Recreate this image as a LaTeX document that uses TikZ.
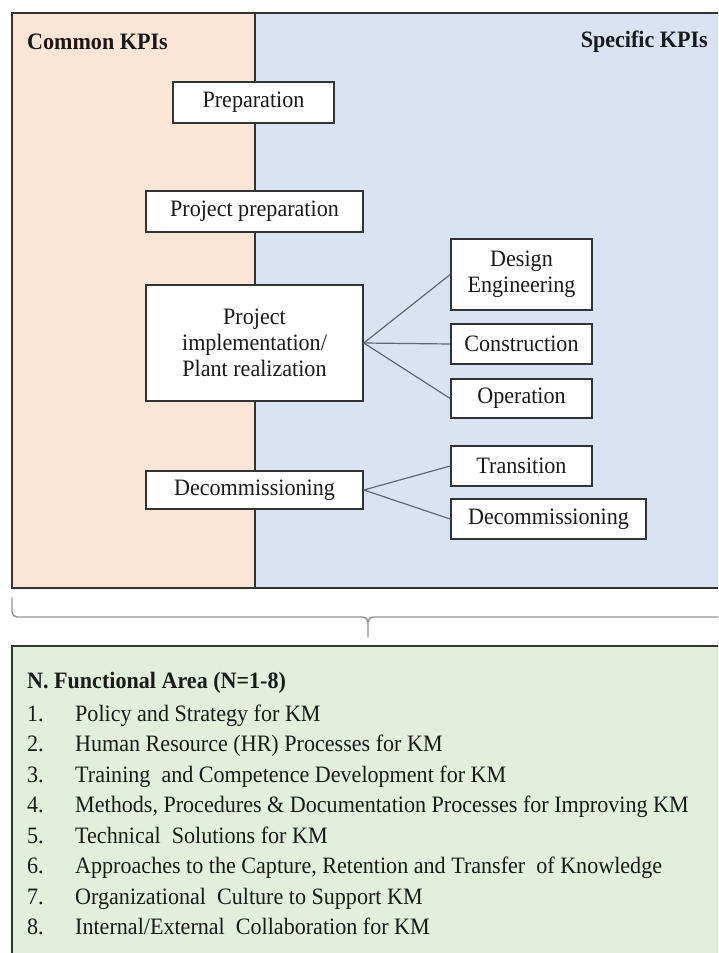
\documentclass[tikz,border=0pt]{standalone}
\usepackage{fontspec}
\setmainfont{Liberation Serif}[FakeStretch=0.94]
\begin{document}
\definecolor{peach}{HTML}{FBE5D6}
\definecolor{paleblue}{HTML}{DAE3F3}
\definecolor{palegreen}{HTML}{E2EFDA}
\definecolor{frame}{HTML}{333333}
\definecolor{link}{HTML}{5F6777}
\definecolor{ink}{HTML}{1A1A1A}
\begin{tikzpicture}[x=1pt,y=-1pt,
  every node/.style={text=ink, font=\fontsize{23.5}{26}\selectfont},
  kbox/.style={draw=frame, line width=1.6pt, fill=white, align=center, inner sep=0pt},
  link/.style={draw=link, line width=1.2pt},
  heading/.style={font=\fontsize{23.5}{26}\selectfont\bfseries, inner sep=0pt},
  item/.style={anchor=base west, inner sep=0pt}
]
\useasboundingbox (0,0) rectangle (718,953);
\clip (0,0) rectangle (718,953);

% panels of common and specific KPIs
\fill[peach] (12,13) rectangle (255,588);
\fill[paleblue] (255,13) rectangle (740,588);
\draw[frame, line width=1.8pt] (740,13) -- (12,13) -- (12,588) -- (740,588);
\draw[frame, line width=1.4pt] (255,13) -- (255,588);

\node[heading, anchor=west] (common) at (27,42) {Common KPIs};
\node[heading, anchor=east] (specific) at (708,42) {Specific KPIs};

% phase boxes
\node[kbox, minimum width=161pt, minimum height=41pt] (prep) at (253.5,102.5) {Preparation};
\node[kbox, minimum width=217pt, minimum height=41pt] (pprep) at (254.5,211.5) {Project preparation};
\node[kbox, minimum width=217pt, minimum height=116pt] (impl) at (254.5,343) {Project\\implementation/\\Plant realization};
\node[kbox, minimum width=217pt, minimum height=38pt] (decom) at (254.5,490) {Decommissioning};

\node[kbox, minimum width=141pt, minimum height=71pt] (design) at (521.5,274.5) {Design\\Engineering};
\node[kbox, minimum width=141pt, minimum height=40pt] (constr) at (521.5,344) {Construction};
\node[kbox, minimum width=141pt, minimum height=39pt] (oper) at (521.5,398.5) {Operation};
\node[kbox, minimum width=141pt, minimum height=40pt] (trans) at (521.5,466) {Transition};
\node[kbox, minimum width=195pt, minimum height=40pt] (decomB) at (548.5,519) {Decommissioning};

\draw[link] (impl.east) -- (design.west);
\draw[link] (impl.east) -- (constr.west);
\draw[link] (impl.east) -- (oper.west);
\draw[link] (decom.east) -- (trans.west);
\draw[link] (decom.east) -- (decomB.west);

% brace gathering the panels
\draw[draw=gray!85, line width=1.4pt, line cap=round]
  (12,598) -- (12,612) arc[start angle=180, end angle=90, radius=5] -- (363,617)
  arc[start angle=270, end angle=360, radius=5] -- (368,637);
\draw[draw=gray!85, line width=1.4pt, line cap=round]
  (368,622) arc[start angle=180, end angle=270, radius=5] -- (740,617);

% functional areas
\fill[palegreen] (12,646) rectangle (740,960);
\draw[frame, line width=1.8pt] (740,646) -- (12,646) -- (12,960);

\node[heading, anchor=base west] (areas) at (27,688) {N. Functional Area (N=1-8)};
\foreach \k/\txt in {1/{Policy and Strategy for KM},
                     2/{Human Resource (HR) Processes for KM},
                     3/{Training\ \ and Competence Development for KM},
                     4/{Methods, Procedures \& Documentation Processes for Improving KM},
                     5/{Technical\ \ Solutions for KM},
                     6/{Approaches to the Capture, Retention and Transfer\ \ of Knowledge},
                     7/{Organizational\ \ Culture to Support KM},
                     8/{Internal/External\ \ Collaboration for KM}} {
  \node[item] (num\k) at (27,{721+30.5*(\k-1)}) {\k.};
  \node[item] (area\k) at (75,{721+30.5*(\k-1)}) {\txt};
}
\end{tikzpicture}
\end{document}
